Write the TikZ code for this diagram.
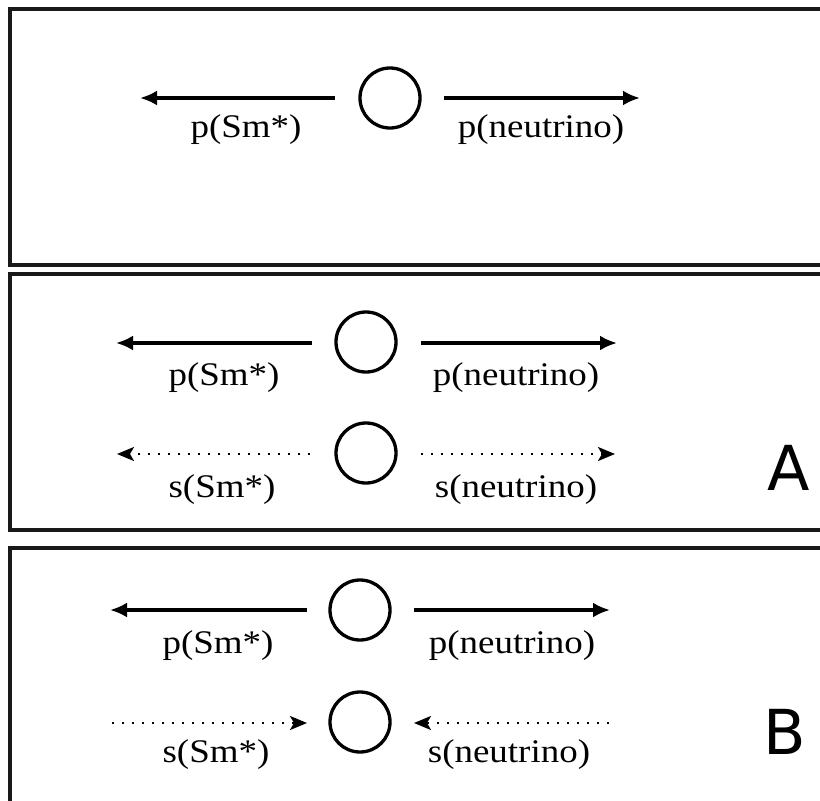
\documentclass[tikz,border=0pt]{standalone}
\usepackage{fontspec}
\setmainfont{Liberation Serif}
\newfontfamily\tagfont{DejaVu Sans}
\usetikzlibrary{arrows.meta}
\begin{document}
\begin{tikzpicture}[x=1pt,y=-1pt,
  panel/.style={draw=black!90,line width=3.5pt},
  body/.style={draw,circle,line width=3.3pt,minimum size=60pt,inner sep=0pt},
  mom/.style={line width=3.3pt,-{Latex[length=17pt,width=15pt]}},
  spin/.style={line width=2.2pt,dash pattern=on 1.8pt off 8.2pt,-{Stealth[length=17pt,width=14pt,inset=4pt]}},
  lbl/.style={font=\fontsize{33}{38}\selectfont,xscale=1.12,inner sep=0pt},
  tag/.style={font=\tagfont\fontsize{62}{70}\selectfont,inner sep=0pt}]
\useasboundingbox[fill=white] (0,0) rectangle (820,801);

% three panels, open towards the right edge
\draw[panel] (10,9) rectangle (840,265);
\draw[panel] (10,274) rectangle (840,530);
\draw[panel] (10,548) rectangle (840,812);

% ---- top panel: momenta only
\node[body] (n1) at (390,98) {};
\coordinate (a1l) at (335,98);  \coordinate (a1le) at (140,98);
\coordinate (a1r) at (444,98);  \coordinate (a1re) at (640,98);
\draw[mom] (a1l) -- (a1le);
\draw[mom] (a1r) -- (a1re);
\node[lbl] (l1a) at (246,130) {p(Sm*)};
\node[lbl] (l1b) at (541,130) {p(neutrino)};

% ---- panel A: momenta and spins
\node[body] (n2) at (366,342) {};
\coordinate (a2l) at (312,343); \coordinate (a2le) at (116,343);
\coordinate (a2r) at (421,343); \coordinate (a2re) at (617,343);
\draw[mom] (a2l) -- (a2le);
\draw[mom] (a2r) -- (a2re);
\node[lbl] (l2a) at (224,378) {p(Sm*)};
\node[lbl] (l2b) at (516,378) {p(neutrino)};

\node[body] (n3) at (366,453) {};
\coordinate (s3l) at (310,454); \coordinate (s3le) at (117,454);
\coordinate (s3r) at (421,454); \coordinate (s3re) at (615,454);
\draw[spin] (s3l) -- (s3le);
\draw[spin] (s3r) -- (s3re);
\node[lbl] (l3a) at (222,490) {s(Sm*)};
\node[lbl] (l3b) at (516,490) {s(neutrino)};
\node[tag] (ta) at (789,468) {A};

% ---- panel B: momenta and spins
\node[body] (n4) at (360,610) {};
\coordinate (a4l) at (307,610); \coordinate (a4le) at (110,610);
\coordinate (a4r) at (414,610); \coordinate (a4re) at (610,610);
\draw[mom] (a4l) -- (a4le);
\draw[mom] (a4r) -- (a4re);
\node[lbl] (l4a) at (218,646) {p(Sm*)};
\node[lbl] (l4b) at (512,646) {p(neutrino)};

\node[body] (n5) at (360,722) {};
\coordinate (s5l) at (112,723); \coordinate (s5le) at (307,723);
\coordinate (s5r) at (609,723); \coordinate (s5re) at (414,723);
\draw[spin] (s5l) -- (s5le);
\draw[spin] (s5r) -- (s5re);
\node[lbl] (l5a) at (216,755) {s(Sm*)};
\node[lbl] (l5b) at (509,755) {s(neutrino)};
\node[tag] (tb) at (785,732) {B};
\end{tikzpicture}
\end{document}
